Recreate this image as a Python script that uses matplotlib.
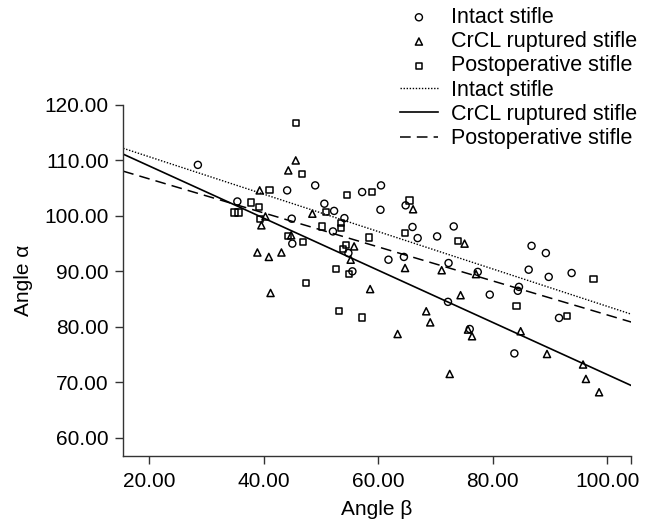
import matplotlib
matplotlib.use('Agg')
import matplotlib.pyplot as plt
import numpy as np

plt.rcParams['font.family'] = ['Liberation Sans', 'DejaVu Sans']

# Angle beta / angle alpha
intact_beta = [28.5, 49.0, 44.1, 35.4, 44.9, 45.0, 57.2, 60.5, 50.6, 52.3, 60.4, 64.8,
               54.1, 52.1, 66.0, 66.9, 70.3, 73.2, 54.8, 61.8, 64.5, 55.5, 72.3, 86.8,
               89.3, 77.4, 86.3, 89.8, 93.8, 84.6, 84.4, 79.5, 91.6, 76.0, 83.8, 72.2]
intact_alpha = [109.2, 105.5, 104.6, 102.6, 99.5, 95.0, 104.3, 105.5, 102.2, 100.9, 101.1, 101.9,
                99.6, 97.2, 98.0, 96.0, 96.3, 98.1, 93.3, 92.1, 92.6, 90.0, 91.5, 94.6,
                93.3, 89.9, 90.3, 89.0, 89.7, 87.2, 86.5, 85.8, 81.6, 79.6, 75.2, 84.5]

crcl_beta = [45.6, 44.3, 39.3, 40.3, 39.6, 48.5, 44.8, 38.9, 40.9, 43.1, 41.2, 66.1,
             55.8, 55.2, 64.7, 71.1, 75.1, 77.1, 74.4, 75.7, 76.4, 84.9, 89.5, 95.8,
             96.3, 98.6, 72.5, 58.6, 63.4, 68.4, 69.1]
crcl_alpha = [110.0, 108.2, 104.6, 99.9, 98.3, 100.4, 96.5, 93.4, 92.6, 93.4, 86.1, 101.2,
              94.5, 92.1, 90.6, 90.2, 95.0, 89.5, 85.7, 79.5, 78.3, 79.2, 75.1, 73.2,
              70.6, 68.2, 71.5, 86.8, 78.7, 82.8, 80.8]

postop_beta = [45.7, 46.7, 41.0, 37.8, 39.2, 34.9, 35.6, 39.3, 44.3, 46.9, 47.4, 54.5,
               58.9, 50.9, 65.5, 53.5, 53.5, 50.2, 58.4, 64.7, 73.9, 54.4, 53.9, 52.6,
               54.9, 97.6, 84.2, 93.0, 53.2, 57.2]
postop_alpha = [116.7, 107.6, 104.7, 102.4, 101.6, 100.6, 100.6, 99.5, 96.4, 95.3, 87.9, 103.8,
                104.3, 100.7, 102.8, 98.7, 97.8, 98.1, 96.1, 96.9, 95.5, 94.7, 94.0, 90.4,
                89.5, 88.6, 83.8, 81.9, 82.9, 81.7]

# fitted lines (intercept, slope)
intact_fit = (117.4, -0.337)
crcl_fit = (118.4, -0.470)
postop_fit = (112.8, -0.3065)

labels = ['Intact stifle', 'CrCL ruptured stifle', 'Postoperative stifle']

xmin, xmax = 15.46, 104.2
ymin, ymax = 56.76, 120.0

fig = plt.figure(figsize=(6.52, 5.27), dpi=100)
ax = fig.add_axes([0.189, 0.1353, 0.779, 0.6655])

ms = 26
ax.scatter(intact_beta, intact_alpha, s=ms, marker='o', facecolors='none',
           edgecolors='black', linewidths=1.0, label=labels[0], zorder=3)
ax.scatter(crcl_beta, crcl_alpha, s=ms, marker='^', facecolors='none',
           edgecolors='black', linewidths=1.1, label=labels[1], zorder=3)
ax.scatter(postop_beta, postop_alpha, s=ms * 0.8, marker='s', facecolors='none',
           edgecolors='black', linewidths=1.1, label=labels[2], zorder=3)

xs = np.array([xmin, xmax])
ax.plot(xs, intact_fit[0] + intact_fit[1] * xs, color='black', lw=1.0,
        linestyle=(0, (1, 1.2)), label=labels[0])
ax.plot(xs, crcl_fit[0] + crcl_fit[1] * xs, color='black', lw=1.2,
        linestyle='-', label=labels[1])
ax.plot(xs, postop_fit[0] + postop_fit[1] * xs, color='black', lw=1.1,
        linestyle=(0, (7, 4)), label=labels[2])

ax.set_xlim(xmin, xmax)
ax.set_ylim(ymin, ymax)
ax.set_xticks([20, 40, 60, 80, 100])
ax.set_yticks([60, 70, 80, 90, 100, 110, 120])
ax.xaxis.set_major_formatter(matplotlib.ticker.FormatStrFormatter('%.2f'))
ax.yaxis.set_major_formatter(matplotlib.ticker.FormatStrFormatter('%.2f'))
ax.set_xticks([xmax], minor=True)
ax.tick_params(axis='x', which='minor', length=5.5, width=1.0, color='#333333')

for s in ['top', 'right']:
    ax.spines[s].set_visible(False)
for s in ['left', 'bottom']:
    ax.spines[s].set_color('#333333')
    ax.spines[s].set_linewidth(1.0)
ax.tick_params(axis='both', which='major', labelsize=15, length=5.5, width=1.0,
               color='#333333', direction='out')
ax.tick_params(axis='x', pad=6)
ax.tick_params(axis='y', pad=5)

ax.set_xlabel('Angle β', fontsize=15, labelpad=7)
ax.set_ylabel('Angle α', fontsize=15, labelpad=8)

handles, _ = ax.get_legend_handles_labels()
fig.legend(handles, labels * 2, loc='upper left', bbox_to_anchor=(0.607, 0.995),
           frameon=False, fontsize=15.5, handlelength=1.75, handletextpad=0.6,
           labelspacing=0.15, borderaxespad=0, borderpad=0.2)

fig.savefig('out.png', dpi=100)
